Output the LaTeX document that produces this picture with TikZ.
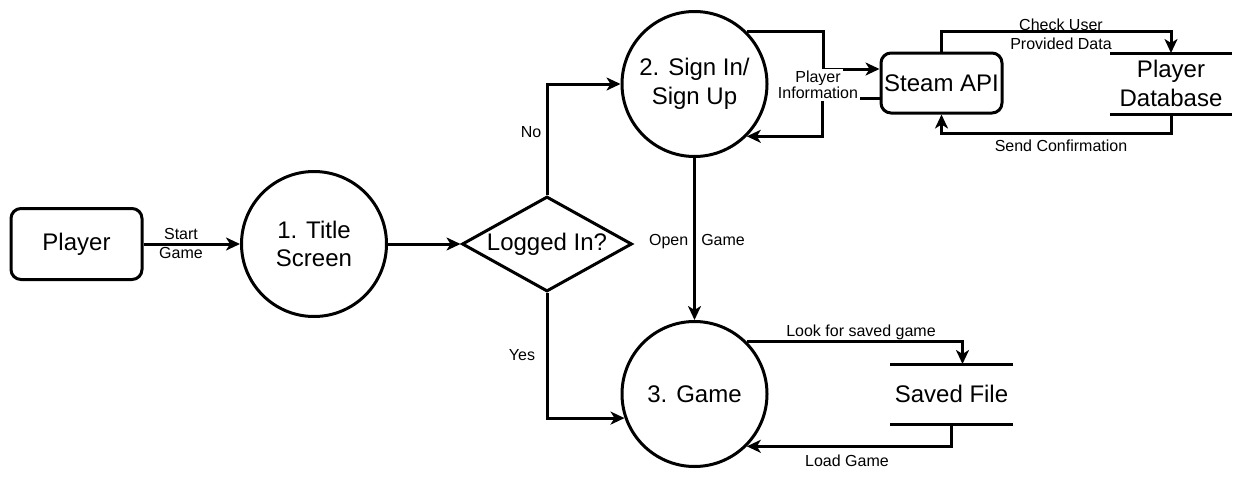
\documentclass[tikz,border=0pt]{standalone}
\usepackage{fontspec}
\setmainfont{Liberation Sans}
\usetikzlibrary{shapes.geometric,arrows.meta}
\setlength{\fboxsep}{2pt}
\begin{document}
\begin{tikzpicture}[x=1pt,y=-1pt,line width=3pt]
	\tikzset{
		big/.style={font=\fontsize{24}{28.8}\selectfont, align=center},
		sm/.style={font=\fontsize{16}{19.2}\selectfont, align=center, inner sep=1pt},
		ent/.style={draw, big, rounded corners=10pt, inner sep=0pt},
		prc/.style={draw, big, circle, minimum size=145pt, inner sep=0pt},
		dst/.style={big, inner sep=0pt, outer sep=0pt},
		arr/.style={-{Stealth[length=14pt,width=13pt,inset=4pt]}},
	}
	\useasboundingbox (0,0) rectangle (1243,482);
	\node[ent, minimum width=131pt, minimum height=71pt] (pl) at (76.5,244) {Player};
	\node[prc] (p1) at (314,244) {1. Title\\Screen};
	\node[draw, big, diamond, aspect=1.79, minimum width=170pt, minimum height=95pt, inner sep=0pt] (dec) at (547,244) {Logged In?};
	\node[prc] (p2) at (694.5,84) {2. Sign In/\\Sign Up};
	\node[prc] (p3) at (694.5,394) {3. Game};
	\node[ent, minimum width=121pt, minimum height=60pt] (api) at (941.5,83) {Steam API};
	\node[dst, minimum width=122pt, minimum height=61pt] (db) at (1171,83.5) {Player\\Database};
	\node[dst, minimum width=123pt, minimum height=60pt] (sf) at (951.5,394) {Saved File};
	\draw (db.north west) -- (db.north east) (db.south west) -- (db.south east);
	\draw (sf.north west) -- (sf.north east) (sf.south west) -- (sf.south east);
	\draw[arr] (pl) -- (p1);
	\draw[arr] (p1) -- (dec);
	\draw[arr] (dec.north) |- (p2.west);
	\draw[arr] (dec.south) |- (p3.199);
	\draw[arr] (p2.south) -- (p3.north);
	\draw[arr] (p2.45) -- ++(77,0) |- ([yshift=14pt]api.west);
	\draw[arr] ([yshift=-15pt]api.west) -- ++(-57,0) |- (p2.-45);
	\draw[arr] (api.north) -- ++(0,-20) -| (db.north);
	\draw[arr] (db.south) -- ++(0,19) -| (api.south);
	\draw[arr] (p3.45) -| ([xshift=11pt]sf.north);
	\draw[arr] (sf.south) |- (p3.-45);
	\node[sm] (l1) at (181,243.5) {Start\\Game};
	\node[sm] (l2) at (531,132) {No};
	\node[sm] (l3) at (522,355) {Yes};
	\node[sm] (l4) at (697,242) {Open\hspace{13pt}Game};
	\node[sm] (l5) at (818,85) {\colorbox{white}{Player}\\[-3pt]\colorbox{white}{Information}};
	\node[sm] (l6) at (1061,34) {Check User\\Provided Data};
	\node[sm] (l7) at (1061,146) {Send Confirmation};
	\node[sm] (l8) at (861,332) {Look for saved game};
	\node[sm] (l9) at (847,461) {Load Game};
\end{tikzpicture}
\end{document}
